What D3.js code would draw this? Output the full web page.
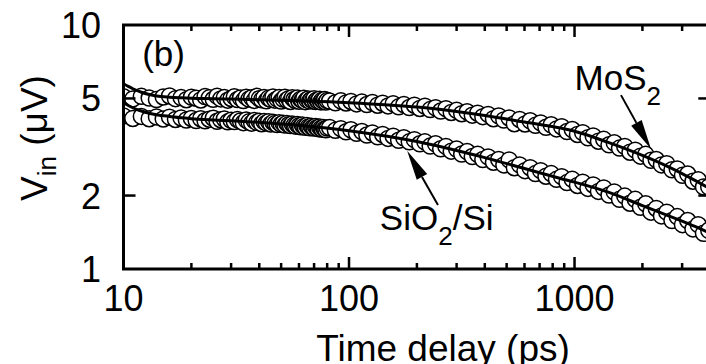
<!DOCTYPE html>
<html>
<head>
<meta charset="utf-8">
<script src="https://cdn.jsdelivr.net/npm/d3@7"></script>
<style>
  html, body { margin: 0; padding: 0; background: #fff; }
  svg { display: block; font-family: "Liberation Sans", Arial, sans-serif; }
</style>
</head>
<body>
<svg id="chart" width="706" height="364"></svg>
<script>
// Pump-probe delays (ps): 1 ps steps up to 80 ps, then roughly logarithmic steps
const delays = [
  10, 11, 12, 13, 14, 15, 16, 17, 18, 19, 20, 21, 22, 23, 24, 25, 26, 27, 28, 29,
  30, 31, 32, 33, 34, 35, 36, 37, 38, 39, 40, 41, 42, 43, 44, 45, 46, 47, 48, 49,
  50, 51, 52, 53, 54, 55, 56, 57, 58, 59, 60, 61, 62, 63, 64, 65, 66, 67, 68, 69,
  70, 71, 72, 73, 74, 75, 76, 77, 78, 79, 80,
  82, 87, 92, 97, 102, 108, 114, 120, 127, 134, 141, 149, 157, 166, 175, 185, 195,
  206, 217, 229, 242, 255, 269, 284, 300, 316, 334, 352, 372, 392, 414, 437, 461,
  486, 513, 541, 571, 603, 636, 671, 708, 747, 788, 832, 877, 926, 977, 1031, 1087,
  1147, 1210, 1277, 1347, 1422, 1500, 1583, 1670, 1762, 1859, 1961, 2069, 2183,
  2303, 2430, 2564, 2705, 2854, 3011, 3177, 3352, 3536, 3731, 3936
];

// Measured signal V_in (µV) on MoS2
const vMoS2 = [
  5.08, 4.98, 5.10, 5.02, 4.95, 5.07, 5.12, 4.99, 5.04, 4.94, 5.06, 5.01, 4.93, 5.09, 5.03, 4.96, 5.11, 4.98, 5.04, 4.92,
  5.00, 5.08, 4.95, 5.02, 4.90, 5.06, 4.97, 5.03, 4.91, 5.10, 4.99, 4.94, 5.05, 4.89, 5.01, 4.96, 5.07, 4.92, 4.98, 5.04,
  4.88, 4.97, 5.06, 4.93, 4.99, 4.86, 5.03, 4.95, 4.90, 5.02, 4.87, 4.96, 4.92, 5.01, 4.85, 4.94, 4.98, 4.88, 4.95, 4.91,
  4.99, 4.86, 4.93, 4.89, 4.96, 4.84, 4.92, 4.88, 4.95, 4.83, 4.90,
  4.88, 4.80, 4.89, 4.79, 4.86, 4.75, 4.83, 4.72, 4.81, 4.69, 4.78, 4.66, 4.76, 4.62, 4.72, 4.59, 4.69,
  4.55, 4.65, 4.50, 4.58, 4.44, 4.54, 4.38, 4.47, 4.33, 4.41, 4.27, 4.35, 4.21, 4.30, 4.13, 4.24,
  4.08, 4.16, 3.94, 4.10, 3.93, 4.05, 3.88, 3.97, 3.81, 3.90, 3.75, 3.83, 3.66, 3.73, 3.56, 3.62,
  3.45, 3.51, 3.34, 3.40, 3.23, 3.29, 3.13, 3.18, 3.01, 3.07, 2.90, 2.95, 2.79,
  2.81, 2.67, 2.70, 2.55, 2.57, 2.42, 2.45, 2.29, 2.32, 2.17, 2.17
];

// Measured signal V_in (µV) on SiO2/Si
const vSiO2 = [
  4.24, 4.14, 4.22, 4.13, 4.20, 4.12, 4.19, 4.10, 4.16, 4.08, 4.14, 4.06, 4.13, 4.05, 4.11, 4.15, 4.03, 4.09, 4.12, 4.01,
  4.07, 4.02, 4.10, 4.04, 3.98, 4.08, 4.01, 3.96, 4.06, 3.99, 4.03, 3.94, 4.02, 3.97, 4.01, 3.93, 3.99, 3.95, 3.91, 3.98,
  3.92, 3.96, 3.89, 3.95, 3.90, 3.87, 3.93, 3.88, 3.85, 3.91, 3.86, 3.83, 3.89, 3.84, 3.81, 3.87, 3.82, 3.79, 3.85, 3.80,
  3.78, 3.84, 3.79, 3.76, 3.82, 3.77, 3.74, 3.80, 3.75, 3.72, 3.78,
  3.80, 3.70, 3.76, 3.65, 3.72, 3.60, 3.66, 3.54, 3.61, 3.48, 3.56, 3.43, 3.50, 3.37, 3.45, 3.32, 3.39,
  3.26, 3.32, 3.19, 3.26, 3.11, 3.18, 3.04, 3.10, 2.96, 3.03, 2.89, 2.95, 2.81, 2.88, 2.74, 2.81,
  2.67, 2.80, 2.60, 2.67, 2.53, 2.60, 2.46, 2.53, 2.40, 2.46, 2.33, 2.39, 2.26, 2.33, 2.20, 2.27,
  2.14, 2.21, 2.08, 2.15, 2.01, 2.07, 1.93, 1.99, 1.86, 1.93, 1.79, 1.85, 1.71,
  1.77, 1.65, 1.71, 1.58, 1.64, 1.52, 1.58, 1.46, 1.52, 1.40, 1.44
];

// Fitted decay curves
const fitDelays = [10, 10.5, 11, 11.5, 12, 13, 14, 16, 18, 20, 25, 30, 40, 55, 70, 100, 150, 200, 300, 400, 600, 867, 1000, 1400, 2000, 2500, 3000, 3500, 4000];
const fitMoS2 = [5.75, 5.60, 5.48, 5.38, 5.30, 5.19, 5.12, 5.06, 5.03, 5.01, 4.99, 4.97, 4.94, 4.90, 4.87, 4.80, 4.70, 4.61, 4.42, 4.26, 4.00, 3.78, 3.67, 3.31, 2.92, 2.67, 2.46, 2.28, 2.13];
const fitSiO2 = [4.82, 4.68, 4.58, 4.50, 4.44, 4.35, 4.29, 4.22, 4.17, 4.13, 4.08, 4.05, 3.99, 3.91, 3.83, 3.69, 3.49, 3.33, 3.06, 2.86, 2.58, 2.35, 2.27, 2.07, 1.82, 1.68, 1.57, 1.48, 1.40];

// Axis ticks
const xMajorTicks = [10, 100, 1000];
const xMinorTicks = [20, 30, 40, 50, 60, 70, 80, 90, 200, 300, 400, 500, 600, 700, 800, 900, 2000, 3000];
const yTickValues = [1, 2, 5, 10];

// Annotations placed in data coordinates (delay, value)
const labelMoS2 = { t: 1000, v: 5.41, tail: [1607, 5.16], tip: [2183, 3.10] };
const labelSiO2 = { t: 137, v: 1.445, tail: [248, 1.83], tip: [181, 3.05] };
const panelLabel = { text: "(b)", t: 12.1, v: 6.79 };

const svg = d3.select("#chart");
const mLeft = 123.5, mRight = 710.3, mTop = 25, mBottom = 269;

const x = d3.scaleLog().domain([10, 4000]).range([mLeft, mRight]);
const y = d3.scaleLog().domain([1, 10]).range([mBottom, mTop]);

svg.append("defs").append("clipPath").attr("id", "plotClip")
  .append("rect").attr("x", mLeft).attr("y", mTop)
  .attr("width", mRight - mLeft).attr("height", mBottom - mTop);

const plot = svg.append("g").attr("clip-path", "url(#plotClip)");

function drawSeries(values) {
  plot.append("g").selectAll("circle")
    .data(delays.map((t, i) => [t, values[i]]))
    .join("circle")
    .attr("cx", d => x(d[0]))
    .attr("cy", d => y(d[1]))
    .attr("r", 8)
    .attr("fill", "#fff")
    .attr("stroke", "#000")
    .attr("stroke-width", 1.5);
}
drawSeries(vSiO2);
drawSeries(vMoS2);

const fitLine = d3.line().x(d => x(d[0])).y(d => y(d[1])).curve(d3.curveMonotoneX);
[fitMoS2, fitSiO2].forEach(vals => {
  plot.append("path")
    .datum(fitDelays.map((t, i) => [t, vals[i]]))
    .attr("d", fitLine)
    .attr("fill", "none")
    .attr("stroke", "#000")
    .attr("stroke-width", 3);
});

// Frame
svg.append("rect").attr("x", mLeft).attr("y", mTop)
  .attr("width", mRight - mLeft).attr("height", mBottom - mTop)
  .attr("fill", "none").attr("stroke", "#000").attr("stroke-width", 3);

// Inward ticks on all four sides
const ticks = svg.append("g").attr("stroke", "#000").attr("stroke-width", 2.5);
const tickLen = t => xMajorTicks.includes(t) ? 12 : 6;
xMajorTicks.concat(xMinorTicks).forEach(t => {
  ticks.append("line").attr("x1", x(t)).attr("x2", x(t)).attr("y1", mBottom).attr("y2", mBottom - tickLen(t));
  ticks.append("line").attr("x1", x(t)).attr("x2", x(t)).attr("y1", mTop).attr("y2", mTop + tickLen(t));
});
yTickValues.filter(v => v > 1 && v < 10).forEach(v => {
  ticks.append("line").attr("x1", mLeft).attr("x2", mLeft + 12).attr("y1", y(v)).attr("y2", y(v));
  ticks.append("line").attr("x1", mRight).attr("x2", mRight - 12).attr("y1", y(v)).attr("y2", y(v));
});

// Tick labels
const fs = 36;
svg.append("g").selectAll("text").data(xMajorTicks).join("text")
  .attr("x", d => x(d)).attr("y", mBottom + 42)
  .attr("text-anchor", "middle").attr("font-size", fs).text(d => d);
svg.append("g").selectAll("text").data(yTickValues).join("text")
  .attr("x", 101).attr("y", d => y(d) + 13)
  .attr("text-anchor", "end").attr("font-size", fs).text(d => d);

// Axis titles
svg.append("text").attr("x", 443).attr("y", 361)
  .attr("text-anchor", "middle").attr("font-size", 37).text("Time delay (ps)");

const yTitle = svg.append("text")
  .attr("transform", "translate(47,138) rotate(-90)")
  .attr("text-anchor", "middle").attr("font-size", 37);
yTitle.append("tspan").text("V");
yTitle.append("tspan").attr("font-size", 26).attr("dy", 9).text("in");
yTitle.append("tspan").attr("dy", -9).text(" (\u03BCV)");

// Panel label
svg.append("text").attr("x", x(panelLabel.t)).attr("y", y(panelLabel.v))
  .attr("font-size", 35).text(panelLabel.text);

// Series labels with arrows
function subLabel(lbl, parts) {
  const t = svg.append("text").attr("x", x(lbl.t)).attr("y", y(lbl.v)).attr("font-size", 35);
  parts.forEach(p => t.append("tspan").attr("font-size", p.sub ? 26 : 35).attr("dy", p.dy || 0).text(p.s));
}
subLabel(labelMoS2, [{ s: "MoS" }, { s: "2", sub: true, dy: 15 }]);
subLabel(labelSiO2, [{ s: "SiO" }, { s: "2", sub: true, dy: 15 }, { s: "/Si", dy: -15 }]);

function arrow(lbl) {
  const x1 = x(lbl.tail[0]), y1 = y(lbl.tail[1]);
  const x2 = x(lbl.tip[0]), y2 = y(lbl.tip[1]);
  const ang = Math.atan2(y2 - y1, x2 - x1);
  const hl = 30, hw = 6;
  const bx = x2 - hl * Math.cos(ang), by = y2 - hl * Math.sin(ang);
  svg.append("line").attr("x1", x1).attr("y1", y1).attr("x2", bx).attr("y2", by)
    .attr("stroke", "#000").attr("stroke-width", 2);
  const px = -Math.sin(ang) * hw, py = Math.cos(ang) * hw;
  svg.append("path")
    .attr("d", `M${x2},${y2}L${bx + px},${by + py}L${bx - px},${by - py}Z`)
    .attr("fill", "#000");
}
arrow(labelMoS2);
arrow(labelSiO2);
</script>
</body>
</html>
